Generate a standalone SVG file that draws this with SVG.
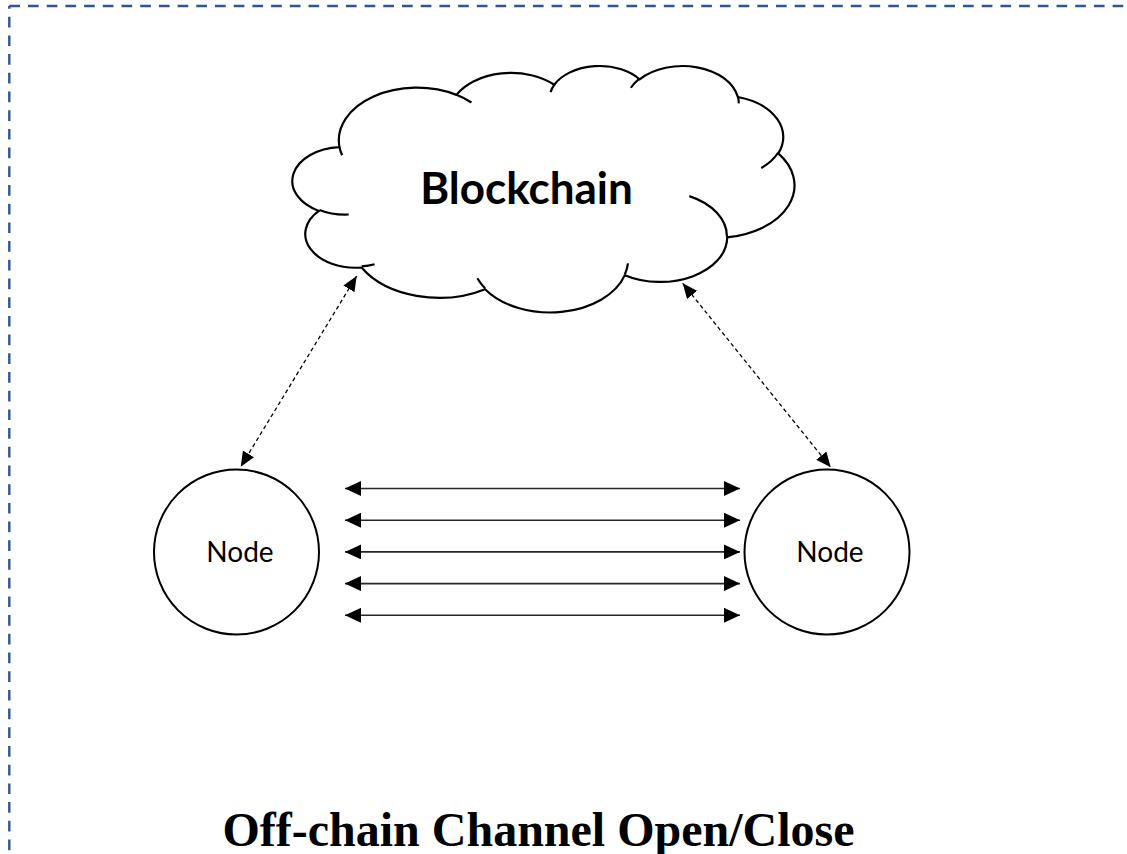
<svg xmlns="http://www.w3.org/2000/svg" width="1127" height="854" viewBox="0 0 1127 854">
  <style>
    .frame { fill: none; stroke: #2F5597; stroke-width: 2.4; stroke-dasharray: 10.7 8; }
    .outline { fill: #ffffff; stroke: #000000; stroke-width: 2.2; stroke-linejoin: round; }
    .crease { fill: none; stroke: #000000; stroke-width: 2.2; stroke-linecap: butt; }
    .node { fill: #ffffff; stroke: #000000; stroke-width: 2; }
    .link { fill: none; stroke: #000000; stroke-width: 1.3; stroke-dasharray: 4 3; marker-start: url(#headSmall); marker-end: url(#headSmall); }
    .msg { fill: none; stroke: #262626; stroke-width: 1.6; marker-start: url(#headWide); marker-end: url(#headWide); }
    .label { font-family: Lato, "Liberation Sans", sans-serif; fill: #000000; text-anchor: middle; }
    .title { font-family: "Liberation Serif", "Times New Roman", serif; font-weight: bold; font-size: 48px; fill: #000000; text-anchor: middle; }
  </style>
  <defs>
    <marker id="headSmall" viewBox="0 0 10 10" preserveAspectRatio="none" refX="10" refY="5" markerUnits="userSpaceOnUse" markerWidth="15" markerHeight="13" orient="auto-start-reverse">
      <path d="M0,0 L10,5 L0,10 Z" fill="#000000"/>
    </marker>
    <marker id="headWide" viewBox="0 0 10 10" preserveAspectRatio="none" refX="10" refY="5" markerUnits="userSpaceOnUse" markerWidth="16" markerHeight="15" orient="auto-start-reverse">
      <path d="M0,0 L10,5 L0,10 Z" fill="#000000"/>
    </marker>
  </defs>

  <rect width="1127" height="854" fill="#ffffff"/>

  <!-- dashed frame, open towards the right and bottom -->
  <g id="frame">
    <path class="frame" d="M9.3,6 H1130"/>
    <path class="frame" d="M9.3,6 V860" stroke-dashoffset="8"/>
  </g>

  <!-- cloud -->
  <g id="blockchain">
    <path class="outline" d="M339.53,147.17
      A78.14,52.42 0 0 1 456.45,94.87
      A61.71,41.45 0 0 1 554.24,84.76
      A50.51,33.91 0 0 1 639.61,79.34
      A56.20,37.62 0 0 1 737.80,96.99
      A61.71,41.49 0 0 1 778.30,153.37
      A78.39,52.59 0 0 1 727.21,237.46
      A66.94,44.87 0 0 1 624.83,275.16
      A78.13,52.56 0 0 1 485.11,289.16
      A89.33,60.14 0 0 1 361.58,267.52
      A50.45,33.76 0 0 1 318.88,210.92
      A50.28,33.91 0 0 1 339.53,147.17 Z"/>
    <path class="crease" d="M348.70,214.51 A50.28,33.91 0 0 1 319.38,209.96
      M374.56,264.26 A50.45,33.76 0 0 1 361.73,266.44
      M485.07,288.17 A78.13,52.56 0 0 1 477.33,278.23
      M627.96,263.42 A78.13,52.56 0 0 1 624.88,274.31
      M689.31,196.13 A66.94,44.87 0 0 1 726.93,236.83
      M778.05,152.78 A61.71,41.49 0 0 1 761.29,168.04
      M737.85,96.15 A56.20,37.62 0 0 1 738.73,103.36
      M630.87,87.74 A56.20,37.62 0 0 1 639.45,78.54
      M550.59,92.12 A50.51,33.91 0 0 1 554.75,84.19
      M456.39,94.82 A78.14,52.42 0 0 1 471.42,102.50
      M342.15,155.26 A78.14,52.42 0 0 1 339.53,147.17"/>
    <text class="label" x="526.5" y="204" font-size="44" font-weight="bold">Blockchain</text>
  </g>

  <!-- channel end points -->
  <g id="node-left">
    <circle class="node" cx="236.5" cy="552" r="82.5"/>
    <text class="label" x="240" y="562" font-size="28">Node</text>
  </g>
  <g id="node-right">
    <circle class="node" cx="827" cy="552" r="82.5"/>
    <text class="label" x="830" y="562" font-size="28">Node</text>
  </g>

  <!-- connectors -->
  <g id="connectors">
    <line class="link" x1="356.7" y1="276" x2="240.7" y2="466.7"/>
    <line class="link" x1="682.7" y1="283.3" x2="830.7" y2="467.3"/>
    <line class="msg" x1="345" y1="488.5" x2="740" y2="488.5"/>
    <line class="msg" x1="345" y1="520.2" x2="740" y2="520.2"/>
    <line class="msg" x1="345" y1="551.9" x2="740" y2="551.9"/>
    <line class="msg" x1="345" y1="583.6" x2="740" y2="583.6"/>
    <line class="msg" x1="345" y1="615.3" x2="740" y2="615.3"/>
  </g>

  <text class="title" x="538.5" y="846">Off-chain Channel Open/Close</text>
</svg>
